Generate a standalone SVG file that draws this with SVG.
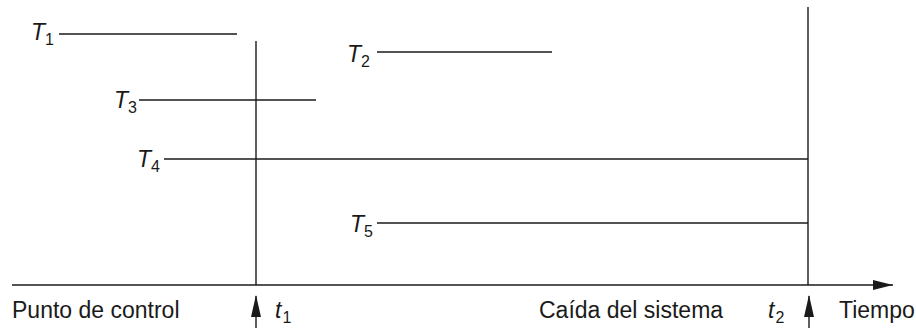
<svg xmlns="http://www.w3.org/2000/svg" width="916" height="328" viewBox="0 0 916 328">
<style>
.ln{stroke:#1a1a1a;stroke-width:1.4;fill:none}
.lb{font-family:"Liberation Sans",Arial,sans-serif;font-size:23px;fill:#1a1a1a}
.it{font-style:italic}
.sb{font-size:16px;font-style:normal}
</style>
<defs>
<marker id="ah" viewBox="0 0 20 10" refX="20" refY="5" markerWidth="20" markerHeight="10" markerUnits="userSpaceOnUse" orient="auto">
<path d="M0,0 L20,5 L0,10 Z" fill="#1a1a1a"/>
</marker>
</defs>
<g id="connectors">
<line class="ln" x1="12" y1="285" x2="893" y2="285" marker-end="url(#ah)"/>
<line class="ln" x1="256" y1="41" x2="256" y2="285"/>
<line class="ln" x1="808" y1="7" x2="808" y2="285"/>
<line class="ln" x1="256" y1="328" x2="256" y2="296"/>
<line class="ln" x1="809" y1="328" x2="809" y2="296"/>
<path d="M256,295 L261,317 L251,317 Z" fill="#1a1a1a"/>
<path d="M809,295 L814,317 L804,317 Z" fill="#1a1a1a"/>
</g>
<g id="T1">
<text class="lb it" x="31" y="40">T<tspan class="sb" dx="0" dy="5">1</tspan></text>
<line class="ln" x1="59" y1="34" x2="237" y2="34"/>
</g>
<g id="T2">
<text class="lb it" x="347" y="62">T<tspan class="sb" dx="0" dy="5">2</tspan></text>
<line class="ln" x1="377" y1="52" x2="552" y2="52"/>
</g>
<g id="T3">
<text class="lb it" x="114" y="108">T<tspan class="sb" dx="0" dy="5">3</tspan></text>
<line class="ln" x1="139" y1="100" x2="316" y2="100"/>
</g>
<g id="T4">
<text class="lb it" x="137" y="167">T<tspan class="sb" dx="0" dy="5">4</tspan></text>
<line class="ln" x1="164" y1="159" x2="808" y2="159"/>
</g>
<g id="T5">
<text class="lb it" x="350" y="232">T<tspan class="sb" dx="0" dy="5">5</tspan></text>
<line class="ln" x1="377" y1="223" x2="808" y2="223"/>
</g>
<g id="labels">
<text class="lb" x="12" y="318">Punto de control</text>
<text class="lb it" x="275" y="318">t<tspan class="sb" dx="1" dy="5">1</tspan></text>
<text class="lb" x="539" y="318">Caída del sistema</text>
<text class="lb it" x="768" y="318">t<tspan class="sb" dx="1" dy="5">2</tspan></text>
<text class="lb" x="839" y="318">Tiempo</text>
</g>
</svg>
